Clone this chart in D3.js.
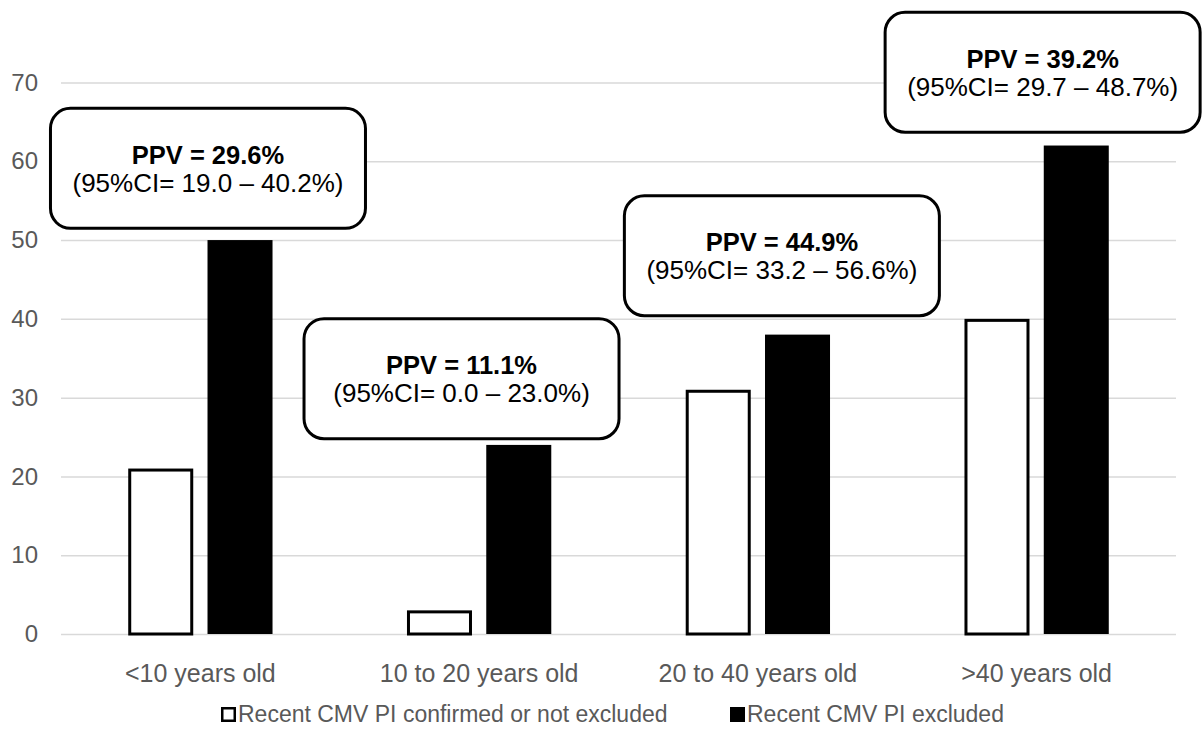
<!DOCTYPE html>
<html>
<head>
<meta charset="utf-8">
<script src="https://cdn.jsdelivr.net/npm/d3@7"></script>
<style>
  body { margin: 0; background: #fff; }
  svg { display: block; font-family: "Liberation Sans", Arial, sans-serif; }
</style>
</head>
<body>
<script>
// data
const categories = ['<10 years old', '10 to 20 years old', '20 to 40 years old', '>40 years old'];
const seriesNames = ['Recent CMV PI confirmed or not excluded', 'Recent CMV PI excluded'];
const confirmedValues = [21, 3, 31, 40];
const excludedValues = [50, 24, 38, 62];
const yTicks = [0, 10, 20, 30, 40, 50, 60, 70];
const ppvLabels = ['PPV = 29.6%', 'PPV = 11.1%', 'PPV = 44.9%', 'PPV = 39.2%'];
const ciLabels = ['(95%CI= 19.0 \u2013 40.2%)', '(95%CI= 0.0 \u2013 23.0%)', '(95%CI= 33.2 \u2013 56.6%)', '(95%CI= 29.7 \u2013 48.7%)'];

// where each callout box sits: bottom edge in axis units, horizontal shift in px
const boxBottom = [51.3, 24.6, 40.2, 63.5];
const boxShift = [7.6, -17.6, 24, 6];

const width = 1203;
const height = 731;
const plot = { left: 61, right: 1176, top: 82.5, bottom: 634 };

const svg = d3.select('body')
  .append('svg')
  .attr('width', width)
  .attr('height', height);

const x0 = d3.scaleBand()
  .domain(categories)
  .range([plot.left, plot.right]);

const groupWidth = 144.3;
const x1 = d3.scaleBand()
  .domain(seriesNames)
  .range([(x0.bandwidth() - groupWidth) / 2, (x0.bandwidth() + groupWidth) / 2])
  .paddingInner(0.18);

const y = d3.scaleLinear()
  .domain([0, 70])
  .range([plot.bottom, plot.top]);

// gridlines + y labels
const yAxis = d3.axisLeft(y)
  .tickValues(yTicks)
  .tickSize(-(plot.right - plot.left))
  .tickPadding(23);

svg.append('g')
  .attr('class', 'y axis')
  .attr('transform', `translate(${plot.left},0)`)
  .call(yAxis)
  .call(g => g.select('.domain').remove())
  .call(g => g.selectAll('line').attr('stroke', '#d9d9d9').attr('stroke-width', 1.5))
  .call(g => g.selectAll('text')
    .attr('fill', '#595959')
    .style('font-size', '24px'));

// x labels
const xAxis = d3.axisBottom(x0).tickSize(0).tickPadding(30);
svg.append('g')
  .attr('class', 'x axis')
  .attr('transform', `translate(0,${plot.bottom})`)
  .call(xAxis)
  .call(g => g.select('.domain').remove())
  .call(g => g.selectAll('text')
    .attr('fill', '#595959')
    .style('font-size', '25px'));

const rows = categories.map((c, i) => ({
  category: c,
  values: [
    { key: seriesNames[0], value: confirmedValues[i] },
    { key: seriesNames[1], value: excludedValues[i] },
  ],
}));

const groups = svg.append('g')
  .selectAll('g')
  .data(rows)
  .join('g')
  .attr('transform', d => `translate(${x0(d.category)},0)`);

groups.selectAll('rect')
  .data(d => d.values)
  .join('rect')
  .attr('x', d => x1(d.key) + (d.key === seriesNames[0] ? 1.5 : 0))
  .attr('y', d => y(d.value) + (d.key === seriesNames[0] ? 1.5 : 0))
  .attr('width', d => x1.bandwidth() - (d.key === seriesNames[0] ? 3 : 0))
  .attr('height', d => y(0) - y(d.value) - (d.key === seriesNames[0] ? 1.5 : 0))
  .attr('fill', d => d.key === seriesNames[0] ? '#fff' : '#000')
  .attr('stroke', d => d.key === seriesNames[0] ? '#000' : 'none')
  .attr('stroke-width', 3);

// callout boxes
const boxW = 318;
const boxH = 123;
const callouts = svg.append('g')
  .selectAll('g')
  .data(categories)
  .join('g')
  .attr('transform', (c, i) => {
    const cx = x0(c) + x0.bandwidth() / 2 + boxShift[i];
    return `translate(${cx},${y(boxBottom[i]) - boxH})`;
  });

callouts.append('rect')
  .attr('x', -boxW / 2 + 1.5)
  .attr('y', 1.5)
  .attr('width', boxW - 3)
  .attr('height', boxH - 3)
  .attr('rx', 20)
  .attr('fill', '#fff')
  .attr('stroke', '#000')
  .attr('stroke-width', 3);

callouts.append('text')
  .attr('text-anchor', 'middle')
  .attr('y', 57)
  .style('font-size', '25.5px')
  .style('font-weight', 'bold')
  .attr('fill', '#000')
  .text((c, i) => ppvLabels[i]);

callouts.append('text')
  .attr('text-anchor', 'middle')
  .attr('y', 85)
  .style('font-size', '26px')
  .attr('fill', '#000')
  .text((c, i) => ciLabels[i]);

// legend
const legendX = [221, 730];
const legend = svg.append('g')
  .selectAll('g')
  .data(seriesNames)
  .join('g')
  .attr('transform', (d, i) => `translate(${legendX[i]},707)`);

legend.append('rect')
  .attr('x', (d, i) => i === 0 ? 1.25 : 0)
  .attr('y', (d, i) => i === 0 ? 1.25 : 0)
  .attr('width', (d, i) => i === 0 ? 12.5 : 15)
  .attr('height', (d, i) => i === 0 ? 12.5 : 15)
  .attr('fill', (d, i) => i === 0 ? '#fff' : '#000')
  .attr('stroke', (d, i) => i === 0 ? '#000' : 'none')
  .attr('stroke-width', 2.5);

legend.append('text')
  .attr('x', 17)
  .attr('y', 15)
  .attr('fill', '#595959')
  .style('font-size', '23px')
  .text(d => d);
</script>
</body>
</html>
